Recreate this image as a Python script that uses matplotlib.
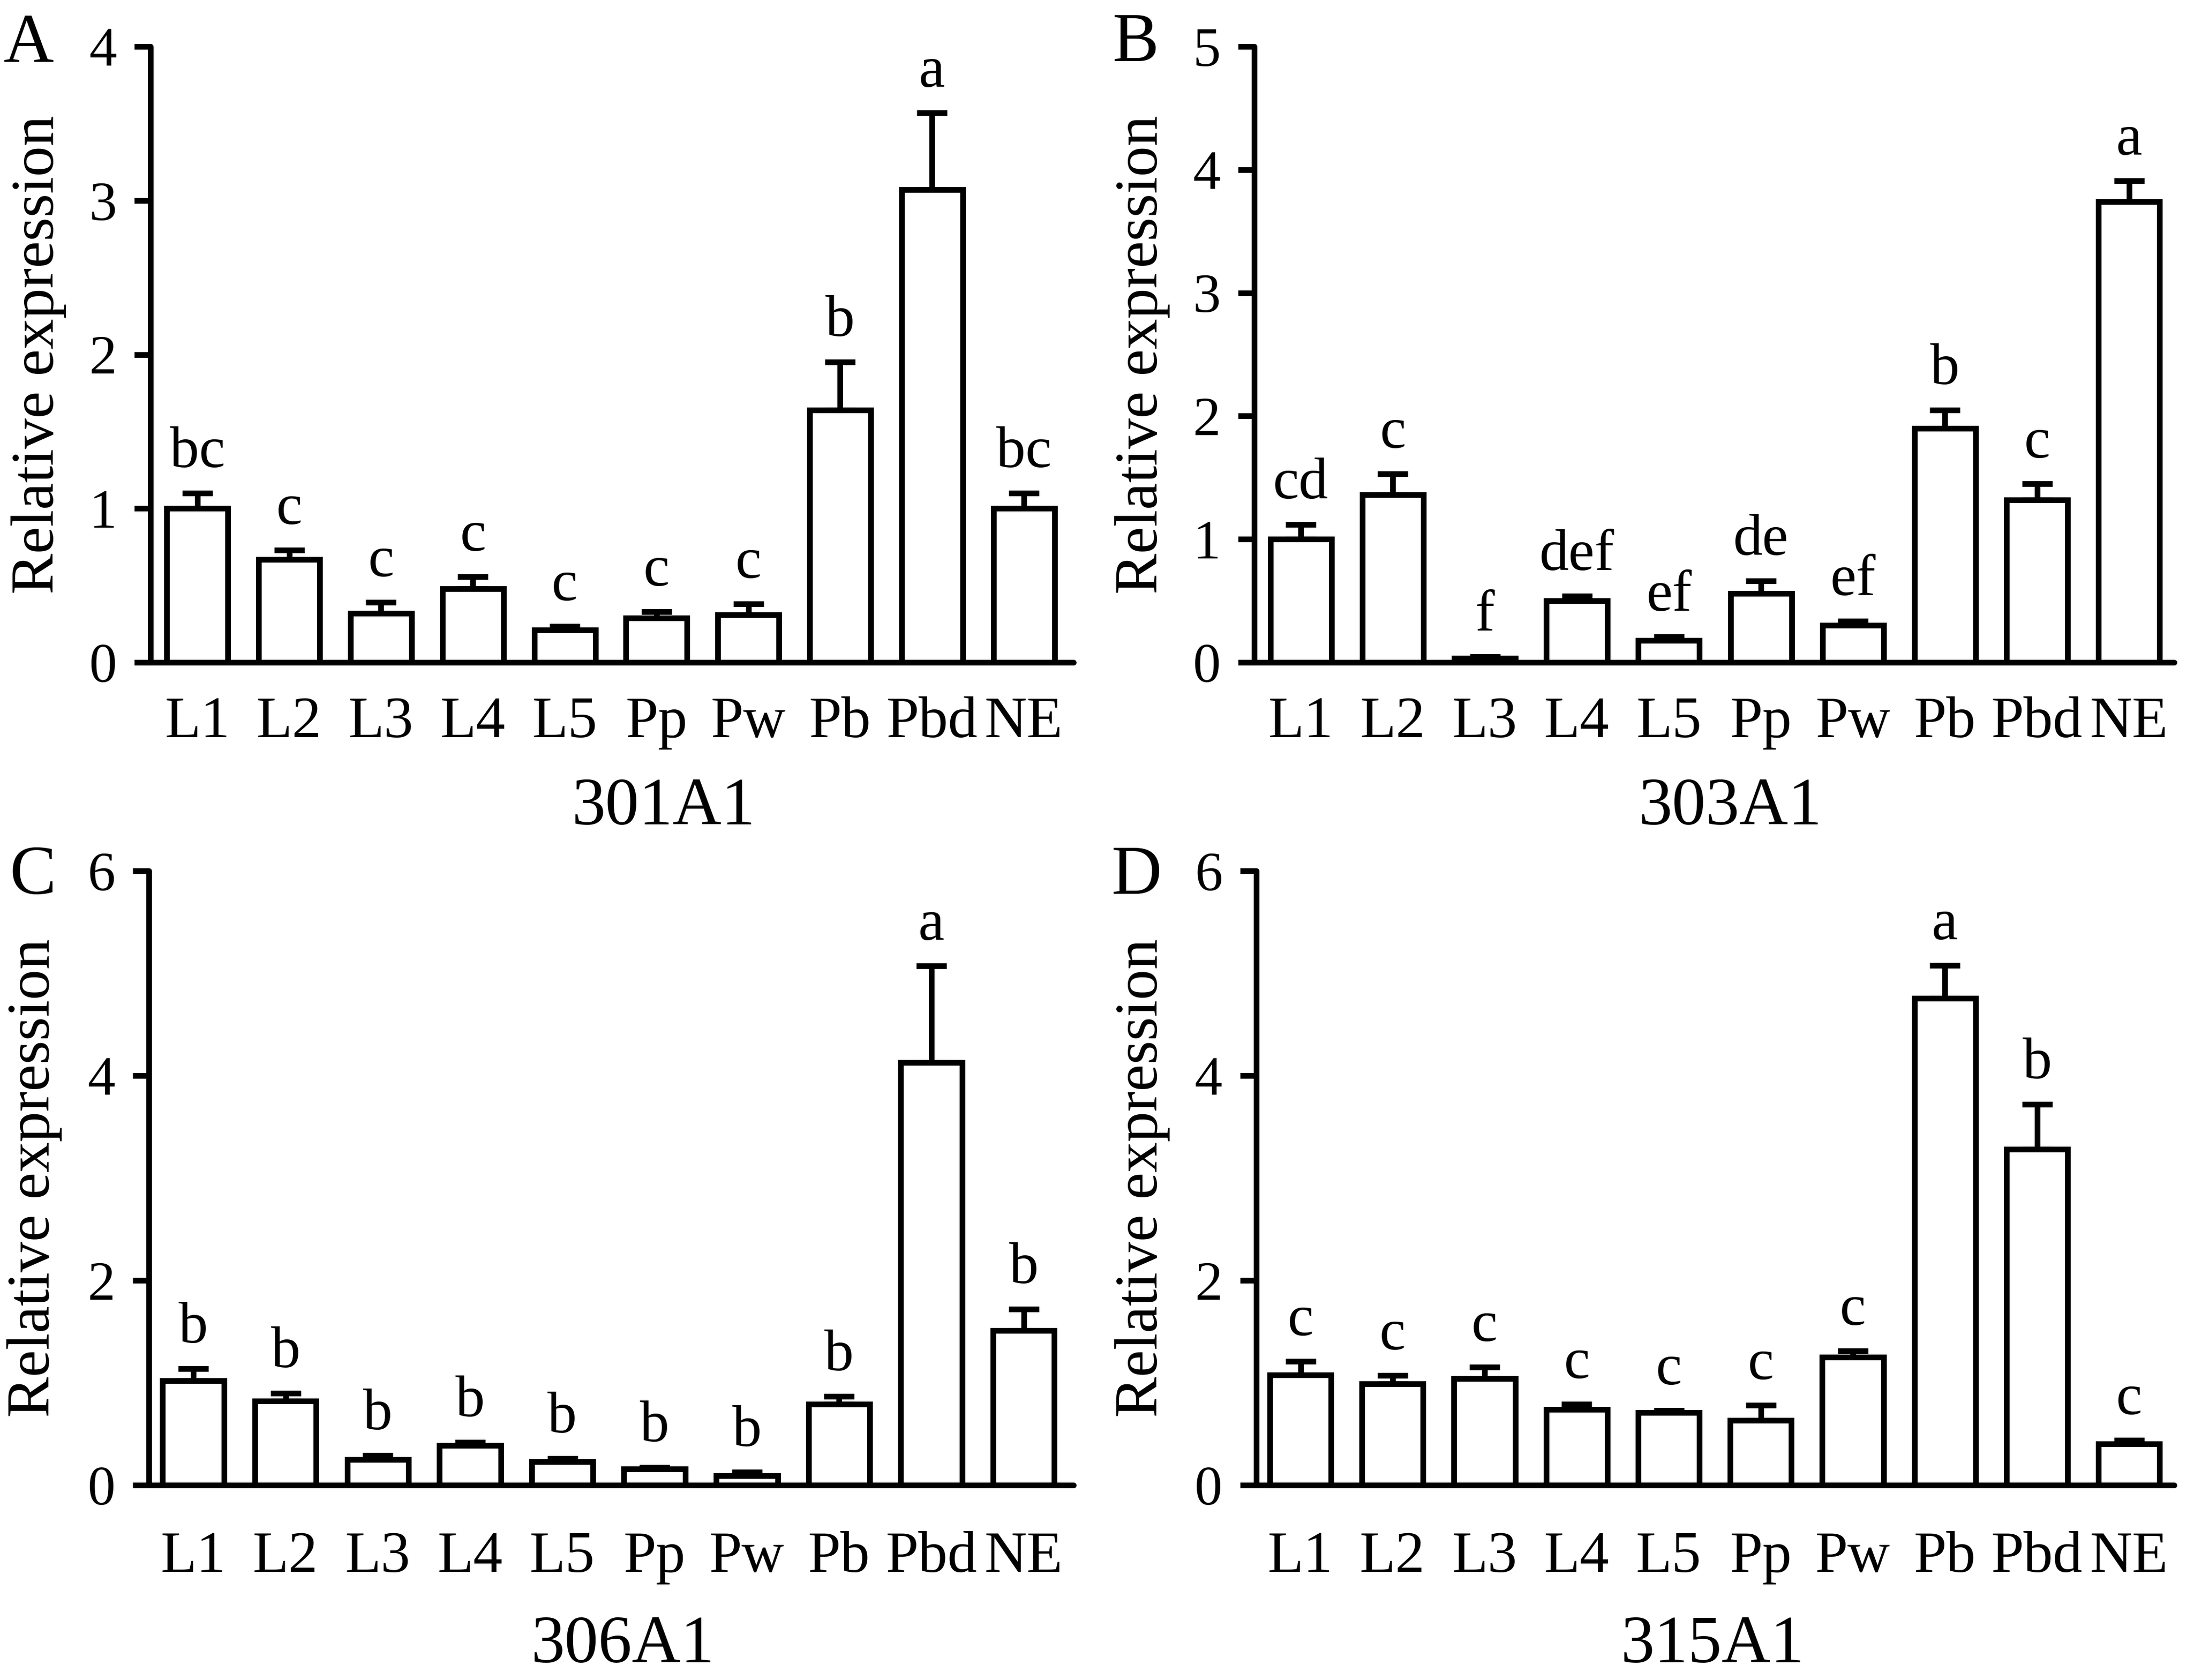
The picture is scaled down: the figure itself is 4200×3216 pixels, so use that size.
import numpy as np
from matplotlib import pyplot as plt

plt.rcParams['font.family'] = ['Liberation Serif', 'DejaVu Serif']

groups = ['L1', 'L2', 'L3', 'L4', 'L5', 'Pp', 'Pw', 'Pb', 'Pbd', 'NE']

# 301A1
a_mean = [1.00, 0.67, 0.32, 0.48, 0.21, 0.29, 0.31, 1.64, 3.07, 1.00]
a_err = [0.10, 0.06, 0.07, 0.077, 0.025, 0.04, 0.07, 0.31, 0.50, 0.10]
a_sig = ['bc', 'c', 'c', 'c', 'c', 'c', 'c', 'b', 'a', 'bc']

# 303A1
b_mean = [1.00, 1.36, 0.035, 0.50, 0.18, 0.56, 0.30, 1.90, 1.32, 3.74]
b_err = [0.12, 0.17, 0.01, 0.04, 0.03, 0.10, 0.035, 0.15, 0.13, 0.17]
b_sig = ['cd', 'c', 'f', 'def', 'ef', 'de', 'ef', 'b', 'c', 'a']

# 306A1
c_mean = [1.02, 0.82, 0.25, 0.39, 0.23, 0.157, 0.094, 0.79, 4.13, 1.51]
c_err = [0.12, 0.08, 0.04, 0.03, 0.03, 0.02, 0.035, 0.08, 0.94, 0.21]
c_sig = ['b', 'b', 'b', 'b', 'b', 'b', 'b', 'b', 'a', 'b']

# 315A1
d_mean = [1.077, 0.99, 1.04, 0.74, 0.71, 0.635, 1.25, 4.755, 3.28, 0.406]
d_err = [0.135, 0.08, 0.115, 0.05, 0.02, 0.145, 0.06, 0.32, 0.44, 0.035]
d_sig = ['c', 'c', 'c', 'c', 'c', 'c', 'c', 'a', 'b', 'c']

lw = 2.6

def panel(fig, rect, mean, err, sig, ymax, ystep, xlim, xpad):
    ax = fig.add_axes(rect)
    x = np.arange(len(groups))
    ax.errorbar(x, mean, yerr=[np.zeros(len(err)), err], fmt='none', ecolor='black',
                elinewidth=lw, capsize=7, capthick=lw, zorder=1, clip_on=False)
    ax.bar(x, mean, width=0.665, color='white', edgecolor='black', linewidth=lw, zorder=2)
    for i in range(len(groups)):
        ax.annotate(sig[i], (x[i], mean[i] + err[i]), xytext=(0, 12), textcoords='offset points',
                    ha='center', va='baseline', fontsize=27, annotation_clip=False)
    ax.set_xlim(xlim)
    ax.set_ylim(0, ymax)
    ax.set_yticks(np.arange(0, ymax + 0.01, ystep))
    ax.set_yticklabels([str(int(v)) for v in np.arange(0, ymax + 0.01, ystep)])
    ax.set_xticks(x)
    ax.set_xticklabels(groups)
    for s in ['top', 'right']:
        ax.spines[s].set_visible(False)
    for s in ['left', 'bottom']:
        ax.spines[s].set_linewidth(lw)
        ax.spines[s].set_capstyle('round')
    ax.tick_params(axis='y', length=7.5, width=lw, pad=8, labelsize=25.5, direction='out')
    ax.tick_params(axis='x', length=0, pad=xpad, labelsize=27)
    return ax

fig = plt.figure(figsize=(14, 10.72), dpi=300)

panel(fig, [0.0686, 0.6057, 0.4893 - 0.0686, 0.9723 - 0.6057], a_mean, a_err, a_sig, 4, 1, (-0.51, 9.54), 15.5)
panel(fig, [0.5717, 0.6057, 0.991 - 0.5717, 0.9723 - 0.6057], b_mean, b_err, b_sig, 5, 1, (-0.505, 9.49), 15.5)
panel(fig, [0.0679, 0.1159, 0.4893 - 0.0679, 0.4817 - 0.1159], c_mean, c_err, c_sig, 6, 2, (-0.48, 9.54), 21)
panel(fig, [0.5726, 0.1159, 0.991 - 0.5726, 0.4817 - 0.1159], d_mean, d_err, d_sig, 6, 2, (-0.48, 9.49), 21)

# y labels
for xl, yl in [(0.0243, 0.789), (0.5274, 0.789), (0.0224, 0.2988), (0.5274, 0.2988)]:
    fig.text(xl, yl, 'Relative expression', rotation=90, rotation_mode='anchor',
             ha='center', va='baseline', fontsize=28)

# gene names
for xt, yt, name in [(0.3024, 0.5093, '301A1'), (0.7886, 0.5093, '303A1'),
                     (0.2838, 0.0106, '306A1'), (0.7805, 0.0106, '315A1')]:
    fig.text(xt, yt, name, ha='center', va='baseline', fontsize=31)

# panel letters
for xp, yp, lab in [(0.0017, 0.9636, 'A'), (0.507, 0.9636, 'B'),
                    (0.0043, 0.468, 'C'), (0.5064, 0.468, 'D')]:
    fig.text(xp, yp, lab, ha='left', va='baseline', fontsize=32)

fig.savefig('out.png', dpi=300)
